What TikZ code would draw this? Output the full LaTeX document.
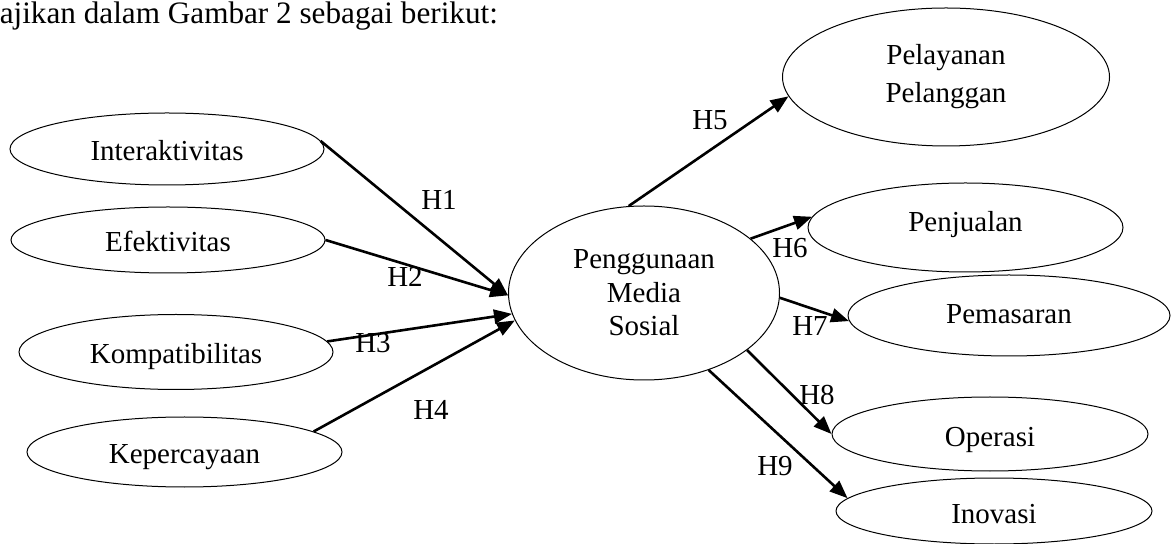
\documentclass[tikz,border=0pt]{standalone}
\usepackage{fontspec}
\setmainfont{Liberation Serif}
\usetikzlibrary{shapes.geometric,arrows.meta}
\begin{document}
\begin{tikzpicture}[x=.5pt,y=-.5pt,
  every node/.style={font=\fontsize{14.5}{16.75}\selectfont},
  var/.style={draw,ellipse,inner sep=0pt,line width=.5pt},
  one/.style={var,text height=12pt,text depth=0pt},
  hyp/.style={line width=1.3pt,-{Triangle[length=9pt,width=7pt]}}]
  \useasboundingbox (0,0) rectangle (1171,544);
  \node[anchor=base east,font=\fontsize{15.6}{18}\selectfont] (intro) at (505,24)
    {ajikan dalam Gambar 2 sebagai berikut:};
  % variabel bebas
  \node[one,minimum width=157pt,minimum height=36pt] (inter) at (167,149) {Interaktivitas};
  \node[one,minimum width=157pt,minimum height=33pt] (efek) at (168,240) {Efektivitas};
  \node[one,minimum width=157pt,minimum height=37.5pt] (komp) at (176,352) {Kompatibilitas};
  \node[one,minimum width=157.5pt,minimum height=35pt] (kep) at (184.5,452) {Kepercayaan};
  % mediasi
  \node[var,align=center,minimum width=135.5pt,minimum height=87pt] (pms) at (644,293)
    {Penggunaan\\Media\\Sosial};
  % variabel terikat
  \node[var,align=center,font=\fontsize{14.5}{19}\selectfont,
    minimum width=163.5pt,minimum height=69pt] (pel) at (946,77) {Pelayanan\\Pelanggan};
  \node[one,text height=4pt,minimum width=157.5pt,minimum height=44.5pt] (penj) at (965.5,227.5) {Penjualan};
  \node[one,text height=8.5pt,minimum width=161pt,minimum height=40.5pt] (pem) at (1009,315.5) {Pemasaran};
  \node[one,minimum width=158pt,minimum height=37pt] (ops) at (990,434) {Operasi};
  \node[one,minimum width=158pt,minimum height=33pt] (inov) at (994,511) {Inovasi};
  % hipotesis
  \draw[hyp] (inter.3) -- (pms.181);
  \draw[hyp] (efek.east) -- (pms.181);
  \draw[hyp] (komp.4) -- (pms.189);
  \draw[hyp] (kep.9) -- (pms.192);
  \draw[hyp] (pms.100) -- (pel.187);
  \draw[hyp] (pms.27) -- (penj.176);
  \draw[hyp] (pms.358) -- (pem.182);
  \draw[hyp] (pms.331) -- (ops.west);
  \draw[hyp] (pms.310) -- (inov.175);
  \node (h1) at (439,200) {H1};
  \node (h2) at (405,277) {H2};
  \node (h3) at (373,343) {H3};
  \node (h4) at (431,410) {H4};
  \node (h5) at (710,120) {H5};
  \node (h6) at (790,248) {H6};
  \node (h7) at (810,326) {H7};
  \node (h8) at (817,395) {H8};
  \node (h9) at (775,466) {H9};
\end{tikzpicture}
\end{document}
